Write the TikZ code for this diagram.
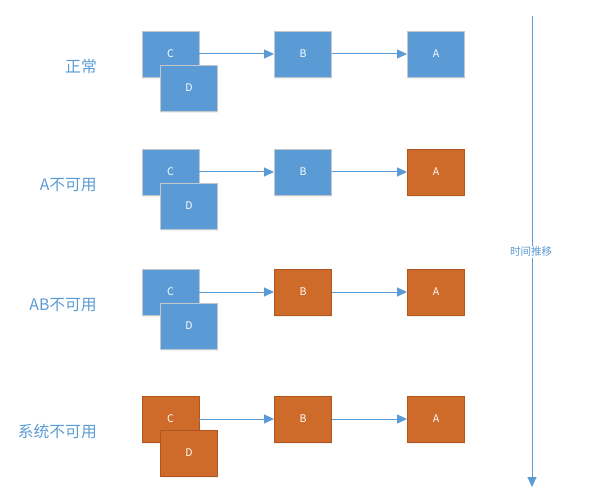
\documentclass[tikz,border=0pt]{standalone}
\usepackage{fontspec}
\setmainfont{Noto Sans CJK SC}
\usetikzlibrary{arrows.meta,shadows}
\definecolor{boxblue}{HTML}{5B9BD5}
\definecolor{boxorange}{HTML}{CF6B2A}
\definecolor{edgeblue}{HTML}{C3C7CC}
\definecolor{edgeorange}{HTML}{B0561F}
\definecolor{labelblue}{HTML}{5B9BD5}
\tikzset{
  box/.style={minimum width=57pt,minimum height=46pt,inner sep=0pt,line width=0.9pt,
    text=white,font=\fontsize{10.5}{11}\selectfont,
    drop shadow={shadow xshift=0pt,shadow yshift=-2pt,opacity=0.15,fill=black!40}},
  ok/.style={box,fill=boxblue,draw=edgeblue},
  bad/.style={box,fill=boxorange,draw=edgeorange},
  rowlabel/.style={anchor=east,text=labelblue,font=\fontsize{15.8}{17}\selectfont,inner sep=0pt},
  link/.style={draw=boxblue,line width=1pt,-{Triangle[length=10pt,width=9pt]}}
}
\begin{document}
\begin{tikzpicture}[x=1pt,y=-1pt]
\useasboundingbox (0,0) rectangle (611,500);
% row 1
\node[ok] (c1) at (170.5,54) {C};
\node[ok] (d1) at (189,88) {D};
\node[ok] (b1) at (303,54) {B};
\node[ok] (a1) at (436,54) {A};
\node[rowlabel] (l1) at (97,66) {正常};
% row 2
\node[ok] (c2) at (170.5,172) {C};
\node[ok] (d2) at (189,206) {D};
\node[ok] (b2) at (303,172) {B};
\node[bad] (a2) at (436,172) {A};
\node[rowlabel] (l2) at (97,185) {A不可用};
% row 3
\node[ok] (c3) at (170.5,292) {C};
\node[ok] (d3) at (189,326) {D};
\node[bad] (b3) at (303,292) {B};
\node[bad] (a3) at (436,292) {A};
\node[rowlabel] (l3) at (97,305) {AB不可用};
% row 4
\node[bad] (c4) at (170.5,419) {C};
\node[bad] (d4) at (189,453) {D};
\node[bad] (b4) at (303,419) {B};
\node[bad] (a4) at (436,419) {A};
\node[rowlabel] (l4) at (97,432) {系统不可用};
% links
\foreach \r in {1,2,3,4}{
  \draw[link] (c\r.east) -- (b\r.west);
  \draw[link] (b\r.east) -- (a\r.west);
}
% time axis
\coordinate (ts) at (532,16);
\coordinate (te) at (532,487);
\draw[link] (ts) -- (te);
\node[fill=white,text=labelblue,font=\fontsize{10.5}{11}\selectfont,inner sep=1pt] (tl) at (531,252) {时间推移};
\end{tikzpicture}
\end{document}
